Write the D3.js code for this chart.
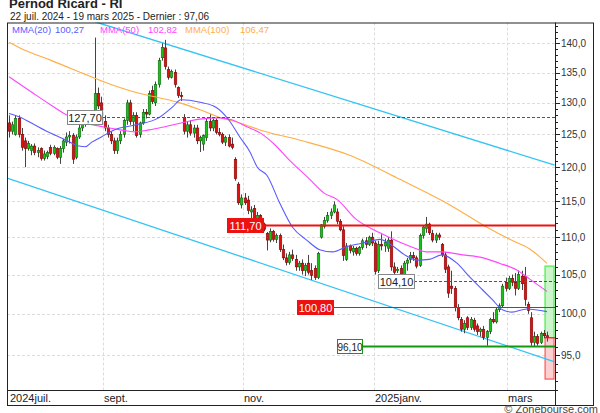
<!DOCTYPE html>
<html><head><meta charset="utf-8">
<script src="https://cdn.jsdelivr.net/npm/d3@7"></script>
<style>body{margin:0;background:#fff}svg{display:block;font-family:"Liberation Sans",Arial,sans-serif}</style>
</head><body><svg id="c" width="600" height="413"></svg>
<script>
// ---------- data ----------
const opens  = [126.8,125.5,125,127.5,125,124,122.8,122.5,123.2,122.2,122.8,121.3,121.6,123,122.1,122.8,121.5,122.8,123.8,124.6,
124.8,121.5,124.6,126,126.7,127.4,127.5,128.5,131.5,130,127,126,125,124,122.5,124,125,127.2,130,127,
128,125,126.8,128.5,128.2,132,130,133,137.5,139.2,135.5,134.2,135,132.5,131.2,127.7,125.5,126.5,125.2,126,
124,123.5,124.5,127,126,127.2,125.3,125,123.8,124.5,123.5,121.2,117.5,114.5,115.5,115.2,113.5,114,112,113,
111.8,110.5,109.6,110.8,109.7,110.2,108.3,107.2,106.6,107.6,107,106,106.5,105.5,106.5,105.5,105.8,104.6,110,111.5,
112.3,113,113.5,113.5,112.2,111,107,108.8,108,108.5,107.8,108.6,109.5,109,110,109.2,105.5,109,108.8,108.5,
109.6,106,105.5,105.8,104.2,106.5,107,107.5,107.2,106.2,110.2,111.2,111.8,110.5,109.6,110.3,109,107.6,106,103.5,
103.2,100.8,99.3,98.1,99.5,98.3,99.2,98.5,97.8,98.1,97.1,97.8,99.3,99,100.5,101,104,103.2,104.5,104,
103.2,104.8,104.8,101.2,99.5,96.5,97.2,96.5,97.6,97.3];
const highs  = [128,127,128,128,126,124.5,124,123.5,123.6,123,123,122.5,122.5,123.4,123.3,123,123.2,124.3,125.3,125.5,
125.2,125,126.5,127,127.8,128.2,128.8,141,132.5,131,128,126.5,125.5,124.5,124.5,125.5,127.5,130.5,130.5,128.5,
128.5,127,129,129,132,132.8,133.5,137.5,140,140.6,136,135.5,135.5,132.7,131.8,128.2,127,127.2,126.5,126.5,
124.8,125,127.5,128.2,127.5,127.5,126,125.3,124.8,125,124.5,121.5,117.8,116,116.2,115.8,114.3,114.5,113.5,113.2,
112,110.7,111.2,111,110.5,110.5,109,107.8,108,108.3,107.6,106.8,107,106.5,107.6,106.5,106.2,108,111.8,112.8,
113.5,114,115,114,112.5,111.5,109.2,109,108.8,108.7,108.8,109.8,110,110.2,110.6,109.5,109.5,110.4,109.8,110,
110.8,106.6,106,106.2,106.8,107.2,108,108,107.5,110.5,111.6,112.8,112,111,110.6,110.6,109.2,108,106.3,105.5,
103.5,101.2,99.6,99.2,99.7,99.6,99.5,98.8,98.3,98.5,98,99.5,100.2,100.8,101.3,103.8,104.6,104.8,105,105.2,
105.5,105.5,106,101.5,100.2,97.8,97.5,97.8,98,97.8];
const lows   = [124.5,125,124.8,124.5,122.5,120,122.5,121.8,121.8,121.5,121,121,121.2,121.8,121.8,121.2,120.5,122.2,123.2,123.6,
120.5,121.2,124.3,125.5,126.2,126.8,127.2,128,129,126.5,125.5,124.5,123.5,122,122,123.5,124.5,126.5,126.5,125.5,
124.5,124.5,126.5,127.5,128,129.8,129.5,132.5,137,135.5,133.8,134,132.5,130.8,130.3,125,124.5,124.8,124.5,123.5,
122.3,122.5,124,125.5,125.5,125,124.7,123.5,123.2,123,122.7,118,114.5,114,114.5,113.2,112.5,111.5,111.3,111.5,
110.8,108.2,109.3,109.4,109.2,108,106.9,106.2,106.3,106.8,105.5,105.5,105,104.8,105,104.3,104.3,104.4,109.8,111.2,
112,112.5,113.3,111.8,110.8,106.8,106.8,107.8,107.5,107.5,107.5,108.3,108.5,108.8,108.8,105,105.2,108.2,108,108,
105.5,104.9,105.2,103.2,104,105.5,106.5,106.8,105.8,106,109.8,110.6,110.3,109.3,109.2,109.6,107.3,105.2,102,102.5,
100.3,99.2,97.8,97.6,98,98,97.8,97.4,97.2,96.8,96.1,97.5,98.8,98.8,100.2,100.8,102.8,103,103.5,102.3,
103,103,101,100,96.1,96,96.1,96.3,97,96.6];
const closes = [125.5,126.5,127.5,125,123,122.8,123.6,123.2,122.2,122.5,121.3,122,122.2,122.1,123,121.5,122.8,124,124.6,124.8,
121.2,124.6,126,126.7,127.4,127.9,128.5,131.5,129.5,127,126,125,124,122.5,124,125,127.2,130,127,128,
124.8,126.8,128.5,128.2,131.5,130.2,133,137,139.3,136,134.2,135.2,133,131.2,131,125.5,126.5,125.2,126,124,
124.5,124.8,127,126,127.2,125.3,125,123.8,124.5,123.2,123,118.3,114.8,115.5,114.8,113.7,113.8,112,113,111.8,
111.1,109.6,110.8,109.7,110.2,108.3,107.2,106.6,107.6,107.1,106,106.5,105.5,106.2,105.3,104.9,104.6,107.8,111.7,112.3,
113,113.5,114.5,112.2,111,107.5,108.8,108.2,108.5,107.8,108.6,109.5,109,110,109.2,105.4,109,108.8,109.3,109.6,
106,105.3,105.7,104.1,106.5,106.9,107.5,107.2,106.1,110.2,111.4,111.8,110.6,109.6,110.3,110,107.6,105.7,102.6,103.2,
100.8,99.5,98.1,98.8,98.3,99.3,98.1,97.8,98.1,97.1,97.8,99.3,99,100.5,101,103.5,103.2,104.5,104,103.2,
105,103.8,101.8,100.4,96.5,97.2,96.4,97.6,97.3,97.06];

// moving averages: [day index, value]
const mma20  = [[0,128.3],[3.5,127.7],[8,126.5],[13,125.2],[18,124.1],[22,123.2],[24,123.1],[26,123.8],[29,124.6],[33,125.7],
[40,126.5],[47,127.6],[51.5,129.4],[54,130.5],[60,130.1],[65,129.3],[69,127.3],[72.5,124.6],[75.7,122.3],[78,120.0],
[81,118.8],[85,114.8],[89,111.4],[93.5,109.6],[97.6,108.3],[101.7,108.0],[106,108.7],[112.4,109.3],[116.5,109.7],[120.6,108.8],
[124.3,107.6],[128.4,106.9],[132,107.0],[136,107.6],[140.7,106.5],[144.7,104.7],[148.8,103.0],[152,101.7],[155,100.5],[158,100.2],
[162.6,100.6],[169,100.27]];
const mma50  = [[0,134.3],[7.5,131.6],[13,129.7],[18,128.1],[24,126.8],[29.5,126.2],[35,125.7],[39.5,125.4],[44,125.7],[49,126.2],
[55,126.9],[60,127.4],[66,127.6],[70,127.3],[74.7,126.2],[79,125.2],[83.5,123.4],[88,121.1],[94.5,118.2],[99,116.2],
[103,115.3],[109,112.5],[116.5,110.6],[122.8,109.3],[127.5,108.5],[131,108.0],[136,108.0],[142.5,107.6],[148,107.3],[154,106.5],
[159.5,105.6],[163.6,104.4],[169,102.82]];
const mma100 = [[0,140.2],[5,138.8],[13,137.1],[23,134.9],[28.5,133.7],[40.5,131.6],[47.4,130.8],[53.7,130.0],[60,128.9],[66,127.7],
[72.5,126.8],[78.8,125.7],[91.4,124.1],[107,121.8],[122.8,118.2],[138.5,114.5],[150,111.4],[157.3,109.7],[163.6,108.4],[169,106.47]];
const maNames  = ["MMA(20)","MMA(50)","MMA(100)"];
const maLast   = ["100,27","102,82","106,47"];

// trend channel (day index, value)
const channelUpper = [[27,143.8],[171.4,120.3]];
const channelLower = [[-0.6,118.4],[171.4,94.2]];

// horizontal levels
const levelValues = [127.70, 111.70, 104.10, 100.80, 96.10];
const levelLabels = ["127,70","111,70","104,10","100,80","96,10"];

// target zone on the right
const zoneTop = 106.1, zoneMid = 97.06, zoneBottom = 92.2;

// axes
const monthLabels = ["2024juil.","sept.","nov.","2025janv.","mars"];
const monthStart  = [0,30,74,115,157];
const yMajor = [95,100,105,110,115,120,125,130,135,140];
const title = "Pernod Ricard - RI";
const subtitle = "22 juil. 2024 - 19 mars 2025 - Dernier : 97,06";

// ---------- drawing ----------
const L=7, R=555, T=22.5, B=390, FR=593, FB=405;
const svg = d3.select("#c");
const x = d3.scaleLinear().domain([0,169]).range([9,547]);
const y = d3.scaleLog().domain([140,95]).range([43.3,355]);

svg.append("defs").append("clipPath").attr("id","pc")
  .append("rect").attr("x",L).attr("y",T).attr("width",R-L).attr("height",B-T);

// title
svg.append("text").attr("x",9).attr("y",8).attr("font-size",13).attr("font-weight","bold").attr("fill","#222").text(title);
svg.append("text").attr("x",10).attr("y",19.5).attr("font-size",10).attr("fill","#222").text(subtitle);

const g = svg.append("g").attr("clip-path","url(#pc)");

// grid
g.selectAll(".hg").data(yMajor).join("line")
  .attr("x1",L).attr("x2",R).attr("y1",d=>Math.round(y(d))+0.5).attr("y2",d=>Math.round(y(d))+0.5)
  .attr("stroke","#dcdcdc").attr("stroke-dasharray","3,2");
g.selectAll(".vg").data(monthStart.slice(1)).join("line")
  .attr("x1",d=>Math.round(x(d-0.5))+0.5).attr("x2",d=>Math.round(x(d-0.5))+0.5).attr("y1",T).attr("y2",B)
  .attr("stroke","#dcdcdc").attr("stroke-dasharray","3,2");

// right target zone
const zx0 = x(168.4), zx1 = R-1;
g.append("rect").attr("x",zx0).attr("y",y(zoneTop)).attr("width",zx1-zx0).attr("height",y(zoneMid)-y(zoneTop))
  .attr("fill","#ccf5cc").attr("stroke","#66ee66").attr("stroke-width",1.5);
g.append("rect").attr("x",zx0).attr("y",y(zoneMid)).attr("width",zx1-zx0).attr("height",y(zoneBottom)-y(zoneMid))
  .attr("fill","#fcd0d0").attr("stroke","#ff5555").attr("stroke-width",1.2);

// channel
const ln = d3.line().x(d=>x(d[0])).y(d=>y(d[1]));
[channelUpper, channelLower].forEach(c=>{
  g.append("path").attr("d",ln(c)).attr("fill","none").attr("stroke","#33c3f5").attr("stroke-width",1.3);
});

// candles
const idx = d3.range(closes.length);
const cw = 2.6;
const cg = g.append("g");
cg.selectAll(".w").data(idx).join("line")
  .attr("x1",i=>Math.round(x(i))+0.5).attr("x2",i=>Math.round(x(i))+0.5)
  .attr("y1",i=>y(highs[i])).attr("y2",i=>y(lows[i]))
  .attr("stroke","#444").attr("stroke-width",1);
cg.selectAll(".b").data(idx).join("rect")
  .attr("x",i=>Math.round(x(i))+0.5-cw/2).attr("width",cw)
  .attr("y",i=>y(Math.max(opens[i],closes[i])))
  .attr("height",i=>Math.max(1,Math.abs(y(opens[i])-y(closes[i]))))
  .attr("fill",i=>closes[i]>=opens[i]?"#18c018":"#e01010")
  .attr("stroke",i=>closes[i]>=opens[i]?"#0a5a0a":"#6a0000").attr("stroke-width",0.5);

// moving averages
const cl = d3.line().x(d=>x(d[0])).y(d=>y(d[1])).curve(d3.curveMonotoneX);
const maColors = ["#5a5aff","#ff44ff","#ffad45"];
[mma100, mma50, mma20].forEach((m,k)=>{
  g.append("path").attr("d",cl(m)).attr("fill","none").attr("stroke",maColors[2-k]).attr("stroke-width",1.1);
});

// levels
const lvl = [
  {lx:67, lw:35, style:"dash"},
  {lx:227, lw:36, style:"red2"},
  {lx:378, lw:36, style:"dash"},
  {lx:297, lw:36, style:"red1"},
  {lx:337, lw:25, style:"green"}
];
levelValues.forEach((v,k)=>{
  const s = lvl[k], yy = Math.round(y(v))+0.5;
  const line = g.append("line").attr("x1",s.lx+s.lw).attr("x2",R).attr("y1",yy).attr("y2",yy);
  if(s.style==="dash") line.attr("stroke","#555").attr("stroke-dasharray","3,2");
  else if(s.style==="red2") line.attr("stroke","#ee1111").attr("stroke-width",2);
  else if(s.style==="red1") line.attr("stroke","#ee1111").attr("stroke-width",1);
  else line.attr("stroke","#119911").attr("stroke-width",2);
  const bx = svg.append("g");
  let fill="#fff", stroke="#888", tc="#222";
  if(s.style.startsWith("red")){fill="#ee1111";stroke="#ee1111";tc="#fff";}
  if(s.style==="green"){fill="#fff";stroke="#119911";tc="#222";}
  bx.append("rect").attr("x",s.lx+0.5).attr("y",yy-7).attr("width",s.lw).attr("height",14)
    .attr("fill",fill).attr("stroke",stroke);
  bx.append("text").attr("x",s.lx+s.lw/2+0.5).attr("y",yy+4).attr("text-anchor","middle")
    .attr("font-size",s.lw<30?10:11).attr("fill",tc).text(levelLabels[k]);
});
// last price line on zone
g.append("line").attr("x1",zx0).attr("x2",R).attr("y1",y(zoneMid)).attr("y2",y(zoneMid)).attr("stroke","#ee2222").attr("stroke-width",1);

// legend
const lg = svg.append("g").attr("font-size",9.5);
const legX = [12,55,100,148,185,240];
maNames.forEach((n,k)=>{
  lg.append("text").attr("x",legX[2*k]).attr("y",33).attr("fill",maColors[k]).text(n);
  lg.append("text").attr("x",legX[2*k+1]).attr("y",33).attr("fill",maColors[k]).text(maLast[k]);
});

// frame
svg.append("rect").attr("x",L+0.5).attr("y",T+0.5).attr("width",FR-L).attr("height",FB-T).attr("fill","none").attr("stroke","#222");
svg.append("line").attr("x1",L).attr("x2",R).attr("y1",B+0.5).attr("y2",B+0.5).attr("stroke","#222");
svg.append("line").attr("x1",R+0.5).attr("x2",R+0.5).attr("y1",T).attr("y2",FB).attr("stroke","#222");

// y axis ticks
const minor = d3.range(91,144);
svg.selectAll(".mt").data(minor).join("line")
  .attr("x1",R).attr("x2",d=>R+(d%5===0?5:3)).attr("y1",d=>Math.round(y(d))+0.5).attr("y2",d=>Math.round(y(d))+0.5)
  .attr("stroke","#222");
svg.selectAll(".yl").data(yMajor).join("text")
  .attr("x",R+6).attr("y",d=>y(d)+3.5).attr("font-size",10).attr("fill","#333")
  .text(d=>d3.format(".1f")(d).replace(".",","));

// x labels
svg.selectAll(".xl").data(monthStart).join("text")
  .attr("x",(d,i)=>i===0?10:Math.round(x(d-0.5))+1).attr("y",402).attr("font-size",11).attr("fill","#222")
  .text((d,i)=>monthLabels[i]);

svg.append("text").attr("x",598).attr("y",413).attr("text-anchor","end").attr("font-size",11).attr("fill","#444").text("© Zonebourse.com");
</script></body></html>
